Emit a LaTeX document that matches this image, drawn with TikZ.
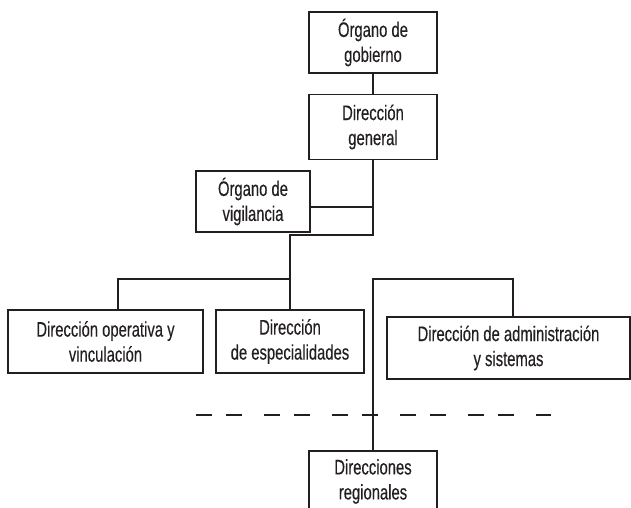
\documentclass[tikz,border=0pt]{standalone}
\usepackage{fontspec}
\setmainfont{Liberation Sans}[FakeStretch=0.705, FakeBold=0.3]
\definecolor{ink}{HTML}{231F20}
\begin{document}
\begin{tikzpicture}[x=1pt,y=-1pt,
  unit/.style={draw=ink, line width=1.3pt, text=ink, align=center, inner sep=0pt,
    font=\fontsize{21}{25}\selectfont},
  link/.style={draw=ink, line width=1.2pt},
  boldlink/.style={draw=ink, line width=2pt},
  band/.style={draw=ink, line width=1.2pt, dash pattern=on 16pt off 14pt on 16pt off 22pt}]
\clip (0,0) rectangle (631,508);
\useasboundingbox (0,0) rectangle (631,508);

% organisational units
\node[unit, minimum width=128pt, minimum height=61pt] (gob) at (373,42.5) {Órgano de\\gobierno};
\node[unit, minimum width=128pt, minimum height=65pt] (gen) at (373,127) {Dirección\\general};
\node[unit, minimum width=114pt, minimum height=61pt] (vig) at (253,201.5) {Órgano de\\vigilancia};
\node[unit, minimum width=195pt, minimum height=63pt] (ope) at (105.5,341.5) {Dirección operativa y\\vinculación};
\node[unit, minimum width=148pt, minimum height=63pt] (esp) at (290,341.5) {Dirección\\de especialidades};
\node[unit, minimum width=243pt, minimum height=62pt] (adm) at (508.5,348) {Dirección de administración\\y sistemas};
\node[unit, minimum width=128pt, minimum height=61pt] (reg) at (373,481.5) {Direcciones\\regionales};

% junction points
\coordinate (jvig) at (373,207);
\coordinate (jdown) at (373,235);
\coordinate (jleft) at (290,235);
\coordinate (jrow) at (290,279);
\coordinate (jope) at (118,279);
\coordinate (jright) at (373,279);
\coordinate (jadm) at (513,279);
\coordinate (dashA) at (196,415);
\coordinate (dashB) at (551,415);

% hierarchy lines
\draw[link] (gob) -- (gen);
\draw[link] (gen) -- (jdown) -- (jleft) -- (esp.north);
\draw[boldlink] (jvig) -- (jvig -| vig.east);
\draw[link] (jrow) -- (jope) -- (jope |- ope.north);
\draw[link] (reg.north) -- (jright) -- (jadm) -- (jadm |- adm.north);

% dashed boundary
\draw[band] (dashA) -- (dashB);
\end{tikzpicture}
\end{document}
